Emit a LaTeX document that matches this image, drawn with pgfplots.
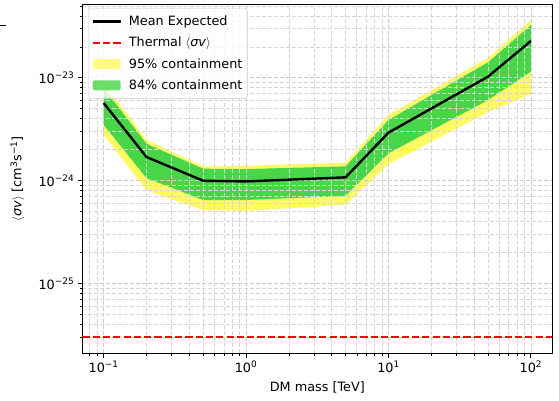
\documentclass[border=0pt]{standalone}
\usepackage{fontspec}
\setmainfont{DejaVu Sans}
\usepackage{pgfplots}
\pgfplotsset{compat=1.18}
\usepgfplotslibrary{fillbetween}
\usepackage{pgfplotstable}

\definecolor{bandyellow}{RGB}{255,250,100}
\definecolor{bandgreen}{RGB}{72,214,72}
\newcommand\ff{\fontsize{12.8}{15}\selectfont}
\pgfplotsset{
  lineleg/.style={legend image code/.code={\draw[##1] (0pt,0pt) -- (28pt,0pt);}},
  patchleg/.style={legend image code/.code={\fill[##1] (0pt,-5pt) rectangle (28pt,5pt);}},
}

% DM mass [TeV], mean expected, 84% band (lo/hi), 95% band (lo/hi)
\pgfplotstableread{
x    mean      glo       ghi       ylo       yhi
0.1  5.7e-24   3.5e-24   8.0e-24   2.8e-24   9.0e-24
0.2  1.70e-24  1.06e-24  2.29e-24  8.05e-25  2.5e-24
0.5  1.0e-24   6.5e-25   1.31e-24  5.2e-25   1.38e-24
1    9.85e-25  6.5e-25   1.3e-24   5.1e-25   1.4e-24
5    1.08e-24  7.15e-25  1.38e-24  5.85e-25  1.5e-24
10   2.94e-24  1.85e-24  3.9e-24   1.45e-24  4.37e-24
50   1.03e-23  6.1e-24   1.42e-23  4.65e-24  1.57e-23
100  2.29e-23  1.15e-23  3.27e-23  6.95e-24  3.66e-23
}\bandtab

\begin{document}
\begin{tikzpicture}
\begin{axis}[
  set layers,
  at={(0pt,0pt)}, anchor=south west,
  scale only axis, width=470pt, height=349pt,
  xmode=log, ymode=log,
  xmin=0.0708, xmax=141.25, ymin=2.1e-26, ymax=5.2e-23,
  xtick={0.1,1,10,100},
  xticklabels={10\textsuperscript{−1},10\textsuperscript{0},10\textsuperscript{1},10\textsuperscript{2}},
  minor xtick={0.08,0.09,0.2,0.3,0.4,0.5,0.6,0.7,0.8,0.9,2,3,4,5,6,7,8,9,20,30,40,50,60,70,80,90},
  ytick={1e-25,1e-24,1e-23},
  yticklabels={10\textsuperscript{−25},10\textsuperscript{−24},10\textsuperscript{−23}},
  minor ytick={3e-26,4e-26,5e-26,6e-26,7e-26,8e-26,9e-26,2e-25,3e-25,4e-25,5e-25,6e-25,7e-25,8e-25,9e-25,2e-24,3e-24,4e-24,5e-24,6e-24,7e-24,8e-24,9e-24,2e-23,3e-23,4e-23,5e-23},
  grid=both,
  major grid style={dash pattern=on 4pt off 2pt, black!20, line width=0.9pt},
  minor grid style={dash pattern=on 4pt off 2pt, black!16, line width=0.9pt},
  tick align=outside, xtick pos=bottom, ytick pos=left,
  major tick length=4.5pt, minor tick length=2.6pt,
  every tick/.style={black, line width=1pt},
  minor tick style={line width=0.8pt},
  axis line style={line width=1pt},
  tick label style={font=\ff},
  xlabel={DM mass [TeV]},
  ylabel={$\langle$\textit{σv}$\rangle$ [cm\textsuperscript{3}s\textsuperscript{−1}]},
  every axis x label/.style={at={(axis description cs:0.5,-0.0974)}, anchor=center, font=\ff},
  every axis y label/.style={at={(axis description cs:-0.138,0.5)}, rotate=90, anchor=center, font=\ff},
  legend style={at={(rel axis cs:0.0128,0.9885)}, anchor=north west,
    draw=black!20, rounded corners=2pt, fill=white, fill opacity=0.8, text opacity=1,
    font=\ff, row sep=6pt, column sep=5pt, inner xsep=3pt, inner ysep=5.5pt},
  legend cell align=left,
]
\addlegendimage{black, line width=2.4pt, lineleg}
\addlegendentry{Mean Expected}
\addlegendimage{red, line width=2pt, dash pattern=on 7.2pt off 3.1pt, lineleg}
\addlegendentry{Thermal $\langle$\textit{σv}$\rangle$}
\addlegendimage{fill=bandyellow, draw=none, patchleg}
\addlegendentry{95\% containment}
\addlegendimage{fill=bandgreen, draw=none, patchleg}
\addlegendentry{84\% containment}

\addplot[name path=yhi, draw=none, forget plot] table[x=x,y=yhi]{\bandtab};
\addplot[name path=ylo, draw=none, forget plot] table[x=x,y=ylo]{\bandtab};
\addplot[bandyellow, forget plot] fill between[of=yhi and ylo, on layer=axis background];
\addplot[name path=ghi, draw=none, forget plot] table[x=x,y=ghi]{\bandtab};
\addplot[name path=glo, draw=none, forget plot] table[x=x,y=glo]{\bandtab};
\addplot[bandgreen, forget plot] fill between[of=ghi and glo, on layer=axis background];

\addplot[black, line width=2.4pt, forget plot] table[x=x,y=mean]{\bandtab};
\addplot[red, line width=2pt, dash pattern=on 7.2pt off 3.1pt, forget plot] coordinates {(0.0708,3e-26) (141.25,3e-26)};
\end{axis}
\draw[line width=1pt] (-82.3pt,328pt) -- (-76pt,328pt);
\pgfresetboundingbox
\useasboundingbox (-82.3pt,-47.7pt) rectangle (476.7pt,353.3pt);
\end{tikzpicture}
\end{document}
